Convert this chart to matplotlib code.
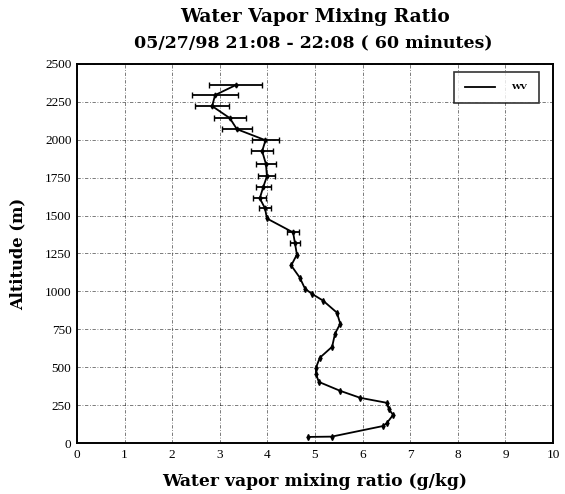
import matplotlib
matplotlib.use("Agg")
import matplotlib.pyplot as plt
from matplotlib.lines import Line2D

# Water vapor mixing ratio profile (g/kg) versus altitude (m)
altitude = [2360, 2295, 2222, 2143, 2070, 1997, 1925, 1839, 1759, 1686, 1614, 1548,
            1481, 1389, 1316, 1243, 1171, 1091, 1018, 985, 939, 860, 787, 721, 635,
            562, 496, 456, 403, 344, 298, 265, 225, 185, 132, 112, 42, 40]
mixing_ratio = [3.33, 2.90, 2.84, 3.21, 3.36, 3.96, 3.89, 3.97, 3.99, 3.91, 3.84, 3.95,
                3.99, 4.54, 4.58, 4.62, 4.50, 4.68, 4.79, 4.93, 5.17, 5.46, 5.53, 5.42, 5.36,
                5.10, 5.02, 5.02, 5.08, 5.53, 5.95, 6.51, 6.55, 6.64, 6.51, 6.43, 5.35, 4.85]
mixing_err = [0.56, 0.48, 0.36, 0.33, 0.32, 0.29, 0.23, 0.21, 0.18, 0.16, 0.14, 0.13,
              0.0, 0.12, 0.10, 0.0, 0.0, 0.0, 0.0, 0.0, 0.0, 0.0, 0.0, 0.0, 0.0,
              0.0, 0.0, 0.0, 0.0, 0.0, 0.0, 0.0, 0.0, 0.0, 0.0, 0.0, 0.0, 0.0]

x_ticks = list(range(0, 11))
y_ticks = list(range(0, 2501, 250))

fig = plt.figure(figsize=(5.65, 4.94), dpi=100)
ax = fig.add_axes([77 / 565, 51 / 494, 476 / 565, 379 / 494])

ax.errorbar(mixing_ratio, altitude, xerr=mixing_err, color="black", lw=1.3,
            marker="d", ms=2.5, elinewidth=1.3, capsize=2, capthick=1.0)

ax.set_xlim(0, 10)
ax.set_ylim(0, 2500)
ax.set_xticks(x_ticks)
ax.set_yticks(y_ticks)
ax.tick_params(length=0, pad=4, labelsize=9.5)
for lab in ax.get_xticklabels() + ax.get_yticklabels():
    lab.set_fontfamily("Liberation Serif")

ax.grid(True, color="black", lw=0.6, linestyle=(0, (4, 2, 1, 2)), alpha=0.6)
for sp in ax.spines.values():
    sp.set_linewidth(1.4)

ax.set_xlabel("Water vapor mixing ratio (g/kg)", fontfamily="DejaVu Serif",
              fontweight="bold", fontsize=12.3, labelpad=9)
ax.set_ylabel("Altitude (m)", fontfamily="DejaVu Serif", fontweight="bold",
              fontsize=11.8, labelpad=13)
fig.text(0.557, 0.965, "Water Vapor Mixing Ratio", ha="center", va="center",
         fontfamily="DejaVu Serif", fontweight="bold", fontsize=13.4)
fig.text(0.555, 0.913, "05/27/98 21:08 - 22:08 ( 60 minutes)", ha="center",
         va="center", fontfamily="DejaVu Serif", fontweight="bold", fontsize=12.5)

handle = Line2D([], [], color="black", lw=1.3)
leg = ax.legend([handle], ["WV"], loc="upper right", frameon=True, fancybox=False,
                edgecolor="black", handlelength=3.6, borderpad=1.35,
                handletextpad=2.0, borderaxespad=0.3, bbox_to_anchor=(0.975, 0.985),
                prop={"family": "DejaVu Serif", "weight": "bold", "size": 6})
leg.get_frame().set_linewidth(1.2)

fig.savefig("out.png", dpi=100)
